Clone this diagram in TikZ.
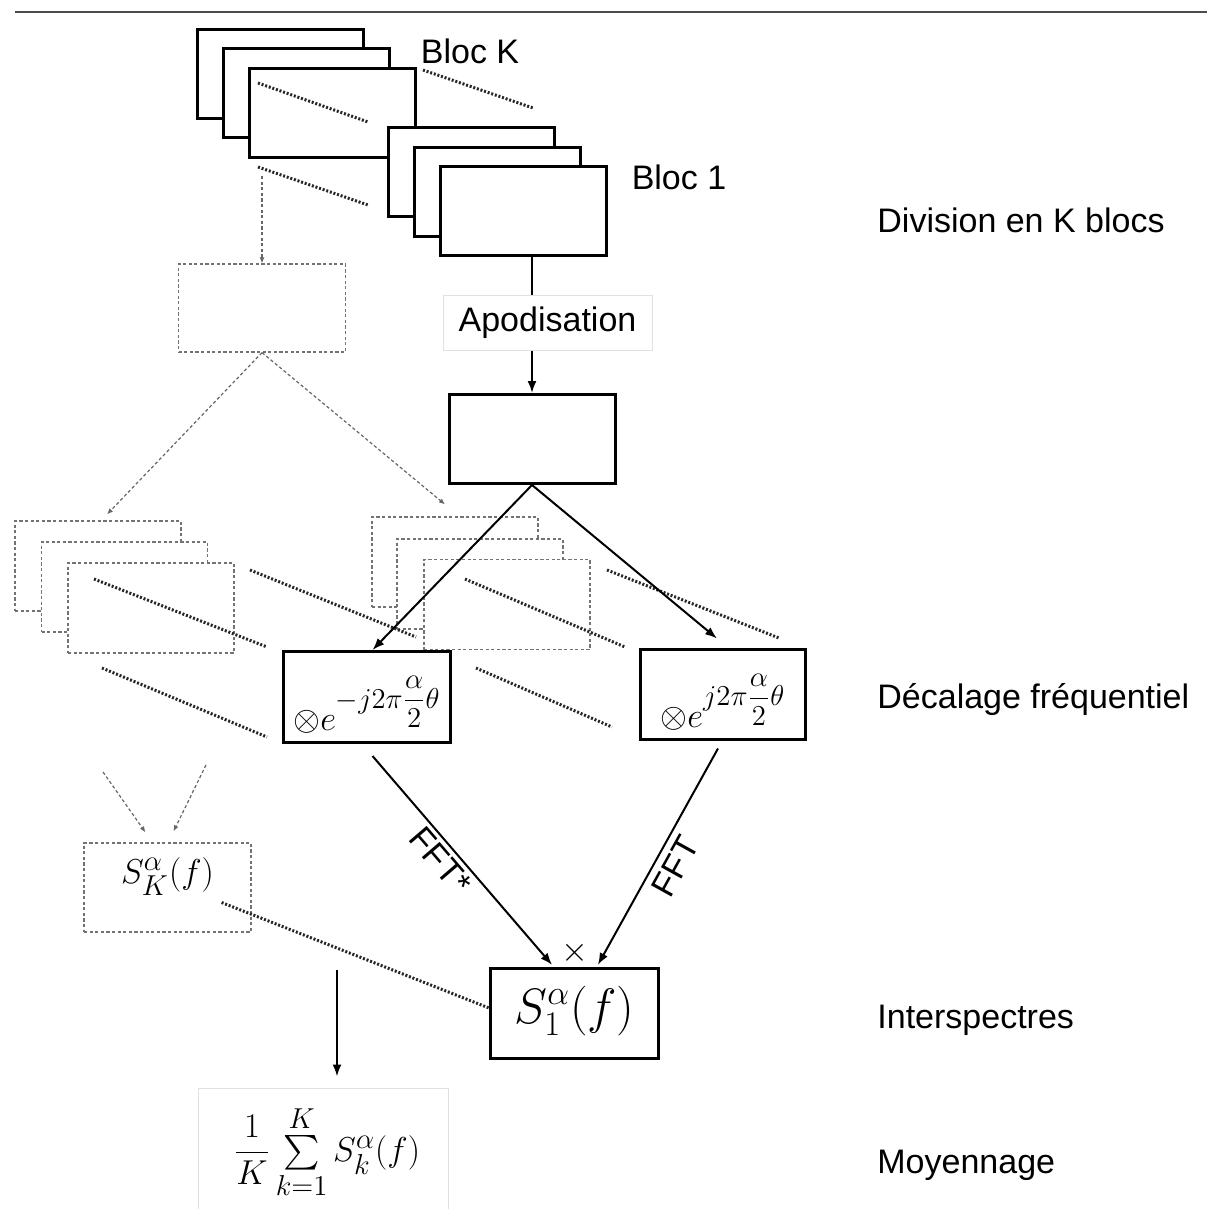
\documentclass[tikz,border=0pt]{standalone}
\usepackage{amsmath}
\usepackage[no-math]{fontspec}
\setmainfont{Liberation Sans}
\usepackage{tikz}
\usetikzlibrary{arrows.meta}
\usetikzlibrary{calc}
\DeclareMathSizes{17}{17.28}{14.4}{12}
\DeclareMathSizes{23}{24.88}{17.28}{14.4}
\newcommand{\decexp}[1]{$\otimes e$\raisebox{11pt}{\fontsize{14.4}{16}\selectfont$#1j2\pi\dfrac{\alpha}{2}\theta$}}

\begin{document}
\begin{tikzpicture}[x=0.5pt,y=-0.5pt,
  blk/.style={draw,line width=1.5pt,fill=white,minimum width=83pt,minimum height=44.5pt,inner sep=0pt},
  ghost/.style={draw=black!55,line width=0.6pt,dash pattern=on 1.6pt off 1.2pt,fill=white,minimum width=83pt,minimum height=45pt,inner sep=0pt},
  faint/.style={draw=black!12,line width=0.5pt},
  lbl/.style={font=\fontsize{17}{20}\selectfont,inner sep=0pt},
  eq/.style={font=\fontsize{17}{20}\selectfont},
  dots/.style={line width=1.5pt,dash pattern=on 1pt off 0.9pt,black!85},
  arr/.style={line width=1pt,-{Latex[length=6pt,width=4.5pt]}},
  dotarr/.style={draw=black!60,line width=0.6pt,dash pattern=on 1.6pt off 1.2pt,-{Latex[length=3pt,width=2.5pt]}}
  ]
\useasboundingbox (0,0) rectangle (1207,1209);

\draw[black!70,line width=1pt] (15,12) -- (1207,12);

% blocs K ... 1
\node[blk] (bk1) at (280,74) {};
\node[blk] (bk2) at (306,93.5) {};
\node[blk] (bk3) at (332,113) {};
\draw[dots] (258,83) -- (368,122);
\draw[dots] (423,70) -- (533,108);
\draw[dots] (258,167) -- (368,205);
\node[blk] (bl1) at (471,172.5) {};
\node[blk] (bl2) at (497,192) {};
\node[blk] (bl3) at (523,211.5) {};

\node[lbl] (blocK) at (470,51) {Bloc K};
\node[lbl] (bloc1) at (679,177) {Bloc 1};

\node[ghost,minimum width=83.5pt,minimum height=44pt] (seg) at (262,308) {};
\coordinate (segin) at (262,176);
\draw[dotarr] (segin) -- (seg.north);

\node[lbl,faint,minimum width=104.5pt,minimum height=27.5pt] (apod) at (547.5,322.5) {Apodisation};
\node[blk] (apo) at (532,439) {};
\draw[line width=1pt] (apo.north |- bl3.south) -- (apo.north |- apod.north);
\draw[arr] (apo.north |- apod.south) -- (apo.north);

% blocs fantomes
\node[ghost] (g1) at (98,566) {};
\node[ghost] (g2) at (124.5,587) {};
\node[ghost] (g3) at (151,608) {};
\node[ghost] (m1) at (455,562) {};
\node[ghost] (m2) at (480,584) {};
\node[ghost] (m3) at (507,604.5) {};

\draw[dotarr] (seg.south) -- ([xshift=4.5pt,yshift=3pt]g1.north);
\draw[dotarr] (seg.south) -- ([xshift=-5pt,yshift=6pt]m1.north);

\draw[dots] (94,579) -- (267,647);
\draw[dots] (250,570) -- (416,637);
\draw[dots] (102,668) -- (267,737);
\draw[dots] (465,579) -- (625,647);
\draw[dots] (607,570) -- (779,638);
\draw[dots] (476,668) -- (612,727);

% decalage
\node[blk,eq,minimum width=83.5pt,minimum height=45.5pt,text height=34pt,text depth=1pt] (decg) at (366.5,697) {\decexp{-}};
\node[blk,eq,minimum width=82.5pt,minimum height=45pt,text height=34pt,text depth=1pt] (decd) at (722.5,694.5) {\decexp{}};

\draw[arr] (apo.south) -- ([xshift=3pt]decg.north);
\draw[arr] (apo.south) -- ([xshift=-2.75pt,yshift=4.75pt]decd.north);

% interspectres
\node[blk,minimum width=84pt,minimum height=45pt,text height=16pt,text depth=6pt,font=\fontsize{23}{26}\selectfont] (sone) at (574.5,1013) {$S_1^{\alpha}(f)$};
\node[eq,inner sep=0pt,minimum width=22.5pt,minimum height=7pt] (prod) at (575,953) {$\times$};

\draw[arr] ([xshift=3pt,yshift=-6pt]decg.south) -- (prod.south west) node[lbl,pos=0.45,sloped,below=2pt] {FFT*};
\draw[arr] ([xshift=-2.25pt,yshift=-3.75pt]decd.south) -- (prod.south east) node[lbl,pos=0.5,sloped,below=3.5pt] {FFT};

\node[ghost,eq,minimum width=83.5pt,minimum height=44.5pt,text height=13pt,text depth=17.5pt] (sk) at (167.5,887.5) {$S_K^{\alpha}(f)$};
\coordinate (skl) at (103,772);
\coordinate (skr) at (206,765);
\draw[dotarr] (skl) -- ([xshift=-11pt,yshift=5pt]sk.north);
\draw[dotarr] (skr) -- ([xshift=3pt,yshift=5.5pt]sk.north);
\draw[dots] ([xshift=-15pt,yshift=-7.5pt]sk.east) -- ([yshift=2.5pt]sone.west);

% moyennage
\node[faint,minimum width=125pt,minimum height=72pt] (moy) at (323,1160) {};
\node[eq,inner sep=0pt] (moyeq) at (327,1152) {$\dfrac{1}{K}\sum\limits_{k=1}^{K}S_k^{\alpha}(f)$};
\coordinate (moyin) at (337,970);
\draw[arr] (moyin) -- ([xshift=7pt,yshift=5.5pt]moy.north);

% etapes
\node[lbl,anchor=west] (etdiv) at (877,220) {Division en K blocs};
\node[lbl,anchor=west] (etdec) at (877,700) {Décalage fréquentiel};
\node[lbl,anchor=west] (etint) at (877,1020) {Interspectres};
\node[lbl,anchor=west] (etmoy) at (877,1165) {Moyennage};

\end{tikzpicture}
\end{document}
